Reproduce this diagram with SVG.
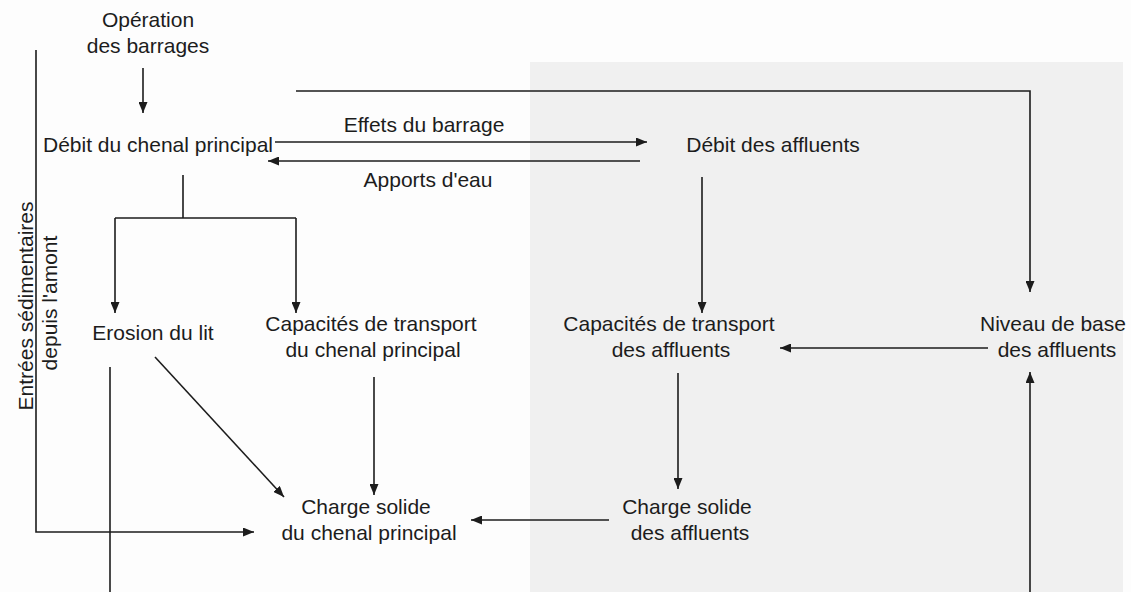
<svg xmlns="http://www.w3.org/2000/svg" width="1131" height="592" viewBox="0 0 1131 592">
<style>
text{font-family:"Liberation Sans",Arial,sans-serif;font-size:21px;fill:#1c1c1c}
.c{text-anchor:middle}
.ln{fill:none;stroke:#1c1c1c;stroke-width:1.6}
.ar{marker-end:url(#ah)}
</style>
<defs>
<marker id="ah" markerUnits="userSpaceOnUse" markerWidth="11" markerHeight="9" refX="11" refY="4.5" orient="auto">
<path d="M0,0 L11,4.5 L0,9 z" fill="#1c1c1c"/>
</marker>
</defs>
<rect x="0" y="0" width="1131" height="592" fill="#fdfdfd"/>
<rect x="530" y="62" width="593" height="530" fill="#f0f0f0"/>

<g id="connectors">
<path class="ln ar" d="M143,68 V113"/>
<path class="ln ar" d="M275,142 H647"/>
<path class="ln ar" d="M640,161 H268"/>
<path class="ln ar" d="M296,91 H1030 V292"/>
<path class="ln" d="M183,175 V218 M115,218 H296"/>
<path class="ln ar" d="M115,218 V313"/>
<path class="ln ar" d="M296,218 V313"/>
<path class="ln ar" d="M702,177 V313"/>
<path class="ln ar" d="M988,348 H780"/>
<path class="ln ar" d="M1030,592 V372"/>
<path class="ln ar" d="M678,373 V489"/>
<path class="ln ar" d="M609,520 H471"/>
<path class="ln ar" d="M155,357 L284,497"/>
<path class="ln ar" d="M374,377 V495"/>
<path class="ln" d="M110,367 V592"/>
<path class="ln ar" d="M36,50 V532 H254"/>
</g>

<g id="operation"><text class="c" x="148" y="27">Opération</text><text class="c" x="148" y="53">des barrages</text></g>
<g id="debit-principal"><text class="c" x="158" y="152">Débit du chenal principal</text></g>
<g id="effets-barrage"><text class="c" x="424" y="132">Effets du barrage</text></g>
<g id="apports-eau"><text class="c" x="428" y="187">Apports d'eau</text></g>
<g id="debit-affluents"><text class="c" x="773" y="152">Débit des affluents</text></g>
<g id="erosion"><text class="c" x="153" y="340">Erosion du lit</text></g>
<g id="capacites-principal"><text class="c" x="371" y="331">Capacités de transport</text><text class="c" x="373" y="357">du chenal principal</text></g>
<g id="capacites-affluents"><text class="c" x="669" y="331">Capacités de transport</text><text class="c" x="671" y="357">des affluents</text></g>
<g id="niveau-base"><text class="c" x="1053" y="331">Niveau de base</text><text class="c" x="1057" y="357">des affluents</text></g>
<g id="charge-principal"><text class="c" x="366" y="514">Charge solide</text><text class="c" x="369" y="540">du chenal principal</text></g>
<g id="charge-affluents"><text class="c" x="687" y="514">Charge solide</text><text class="c" x="690" y="540">des affluents</text></g>
<g id="entrees"><text class="c" transform="translate(33,306) rotate(-90)">Entrées sédimentaires</text><text class="c" transform="translate(57,303) rotate(-90)">depuis l'amont</text></g>
</svg>
